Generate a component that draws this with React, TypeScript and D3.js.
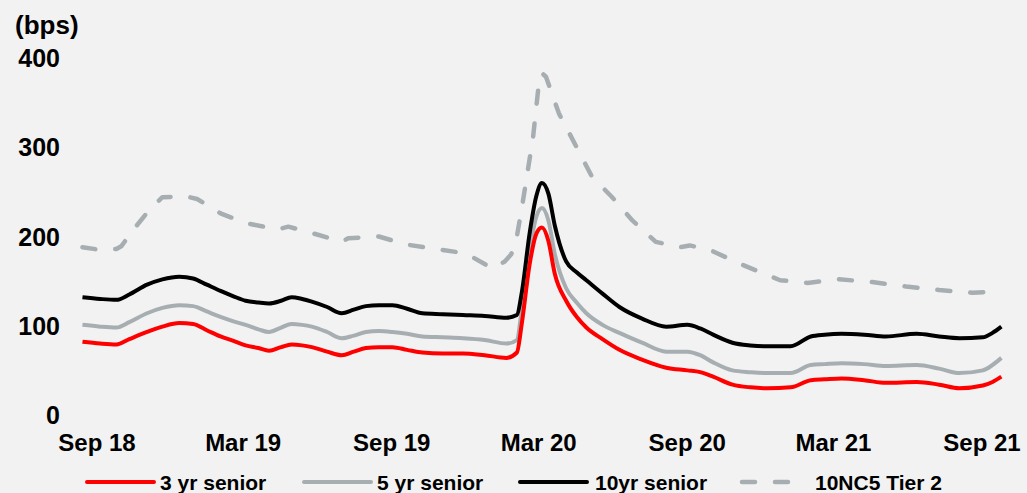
import React from "react";
import * as d3 from "d3";

const yTicks = [0, 100, 200, 300, 400];
const xTickDates = ["2018-09-01", "2019-03-01", "2019-09-01", "2020-03-01", "2020-09-01", "2021-03-01", "2021-09-01"];
const xTickLabels = ["Sep 18", "Mar 19", "Sep 19", "Mar 20", "Sep 20", "Mar 21", "Sep 21"];

const seniorDates = [
  "2018-08-14", "2018-09-05", "2018-09-25", "2018-10-11", "2018-11-02", "2018-11-21", "2018-12-12", "2018-12-29",
  "2019-01-15", "2019-02-01", "2019-02-17", "2019-03-04", "2019-03-20", "2019-04-02", "2019-04-17", "2019-04-30",
  "2019-05-13", "2019-05-25", "2019-06-13", "2019-07-01", "2019-07-16", "2019-07-31", "2019-08-16", "2019-09-02",
  "2019-09-20", "2019-10-09", "2019-11-03", "2019-11-28", "2019-12-25", "2020-01-21", "2020-02-03", "2020-02-09",
  "2020-02-19", "2020-02-27", "2020-03-05", "2020-03-13", "2020-03-21", "2020-04-04", "2020-04-17", "2020-04-29",
  "2020-05-19", "2020-06-09", "2020-07-07", "2020-08-06", "2020-09-01", "2020-09-17", "2020-10-03", "2020-10-27",
  "2020-11-18", "2020-12-09", "2021-01-07", "2021-02-01", "2021-02-18", "2021-03-11", "2021-04-08", "2021-05-05",
  "2021-06-12", "2021-07-10", "2021-08-04", "2021-09-02", "2021-09-14", "2021-09-25",
];

const senior3yr = [
  82, 80, 79, 85, 93, 99, 103, 102,
  95, 88, 83, 78, 75, 72, 76, 79,
  78, 76, 71, 67, 71, 75, 76, 76,
  73, 70, 69, 69, 67, 64, 70, 102,
  170, 203, 210, 195, 158, 128, 110, 98,
  85, 73, 62, 53, 50, 48, 43, 34,
  31, 30, 31, 39, 40, 41, 39, 36,
  37, 34, 30, 33, 37, 43,
];

const senior5yr = [
  101, 99, 98, 104, 114, 120, 123, 122,
  116, 110, 105, 101, 96, 93, 98, 102,
  101, 99, 93, 86, 89, 93, 94, 93,
  91, 88, 87, 86, 84, 80, 84, 118,
  185, 222, 232, 218, 180, 142, 126, 114,
  101, 92, 81, 71, 71, 67, 59, 50,
  48, 47, 47, 56, 57, 58, 57, 55,
  56, 52, 47, 50, 56, 64,
];

const senior10yr = [
  132, 130, 129, 135, 146, 152, 155, 153,
  146, 139, 133, 128, 126, 125, 128, 132,
  130, 127, 121, 114, 118, 122, 123, 123,
  119, 114, 113, 112, 111, 109, 112, 137,
  205, 245, 260, 248, 212, 172, 160, 151,
  136, 121, 108, 99, 101, 97, 90, 81,
  78, 77, 77, 88, 90, 91, 90, 88,
  91, 88, 86, 87, 92, 99,
];

const tier2Dates = [
  "2018-08-14", "2018-09-05", "2018-09-25", "2018-10-01", "2018-10-19", "2018-11-05", "2018-11-21", "2018-12-20",
  "2019-01-03", "2019-02-01", "2019-03-04", "2019-04-13", "2019-04-26", "2019-05-25", "2019-07-01", "2019-07-09",
  "2019-08-16", "2019-09-19", "2019-10-26", "2019-12-02", "2020-01-04", "2020-01-19", "2020-01-27", "2020-02-03",
  "2020-02-10", "2020-02-23", "2020-03-01", "2020-03-05", "2020-03-10", "2020-03-26", "2020-04-17", "2020-05-06",
  "2020-05-31", "2020-06-25", "2020-07-24", "2020-08-23", "2020-09-04", "2020-09-29", "2020-11-09", "2020-12-25",
  "2021-01-28", "2021-03-08", "2021-04-18", "2021-05-30", "2021-07-10", "2021-08-20", "2021-09-10", "2021-09-25",
];

const tier2 = [
  188, 185, 186, 189, 211, 230, 244, 245,
  242, 226, 215, 208, 211, 204, 194, 198,
  200, 191, 186, 181, 164, 172, 180, 200,
  237, 311, 370, 383, 379, 338, 300, 267,
  244, 218, 194, 188, 190, 185, 168, 151,
  148, 152, 149, 144, 140, 137, 138, 145,
];

const legendLabels = ["3 yr senior", "5 yr senior", "10yr senior", "10NC5 Tier 2"];
const colors = { red: "#ff0000", gray: "#a7aeb2", black: "#000000" };

export default function App() {
  const W = 1027;
  const H = 493;
  const parse = d3.timeParse("%Y-%m-%d");
  const x = d3
    .scaleTime()
    .domain([parse("2018-09-01")!, parse("2021-09-01")!])
    .range([97, 982]);
  const y = d3.scaleLinear().domain([0, 400]).range([415, 58]);

  const sDates = seniorDates.map((d) => parse(d)!);
  const tDates = tier2Dates.map((d) => parse(d)!);

  const smooth = d3
    .line<number>()
    .x((_, i) => x(sDates[i]))
    .y((v) => y(v))
    .curve(d3.curveMonotoneX);
  const straight = d3
    .line<number>()
    .x((_, i) => x(tDates[i]))
    .y((v) => y(v))
    .curve(d3.curveLinear);

  const font = "'Liberation Sans', Arial, sans-serif";
  const lw = 4;
  const dash = "13 20";

  const legendItems = [
    { label: legendLabels[0], color: colors.red, dashed: false, x0: 87, x1: 154, tx: 160 },
    { label: legendLabels[1], color: colors.gray, dashed: false, x0: 304, x1: 371, tx: 377 },
    { label: legendLabels[2], color: colors.black, dashed: false, x0: 520, x1: 587, tx: 595 },
    { label: legendLabels[3], color: colors.gray, dashed: true, x0: 742, x1: 808, tx: 815 },
  ];

  return (
    <div>
      <style>{`body{margin:0;}`}</style>
      <svg width={W} height={H} style={{ display: "block", background: "#f2f2f2" }} fontFamily={font} fontWeight="bold">
        <rect x={0} y={0} width={W} height={H} fill="#f2f2f2" />
        <text x={15} y={34} fontSize={26} fill="#000">(bps)</text>
        {yTicks.map((t) => (
          <text key={t} x={60} y={y(t)} dy="0.36em" textAnchor="end" fontSize={25} fill="#000">
            {t}
          </text>
        ))}
        {xTickDates.map((d, i) => (
          <text key={d} x={x(parse(d)!)} y={451} textAnchor="middle" fontSize={24} fill="#000">
            {xTickLabels[i]}
          </text>
        ))}
        <path d={straight(tier2) || ""} fill="none" stroke={colors.gray} strokeWidth={4.5} strokeDasharray={dash} strokeLinecap="round" strokeLinejoin="round" />
        <path d={smooth(senior5yr) || ""} fill="none" stroke={colors.gray} strokeWidth={lw} strokeLinejoin="round" />
        <path d={smooth(senior10yr) || ""} fill="none" stroke={colors.black} strokeWidth={lw} strokeLinejoin="round" />
        <path d={smooth(senior3yr) || ""} fill="none" stroke={colors.red} strokeWidth={lw} strokeLinejoin="round" />
        {legendItems.map((it) => (
          <g key={it.label}>
            <line
              x1={it.x0}
              x2={it.x1}
              y1={482}
              y2={482}
              stroke={it.color}
              strokeWidth={it.dashed ? 4.5 : 4}
              strokeLinecap="round"
              strokeDasharray={it.dashed ? dash : undefined}
            />
            <text x={it.tx} y={490} fontSize={21} fill="#000">
              {it.label}
            </text>
          </g>
        ))}
      </svg>
    </div>
  );
}
